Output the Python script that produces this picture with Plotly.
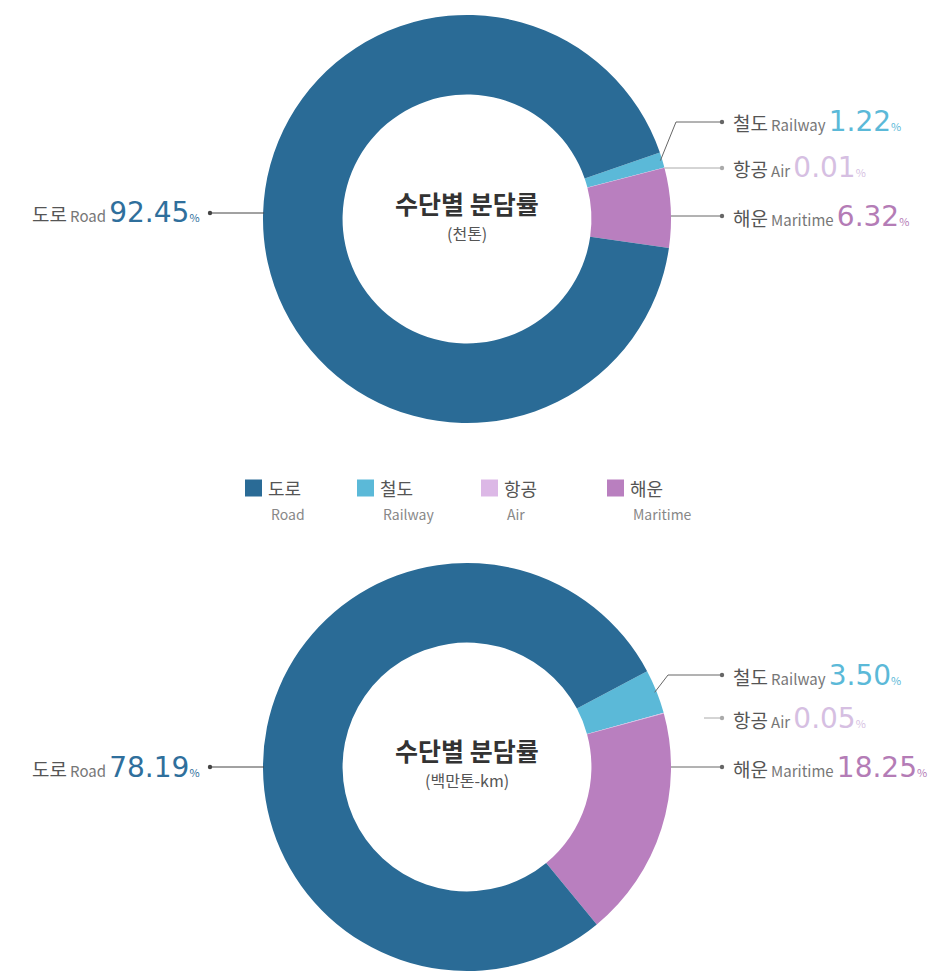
import math
import plotly.graph_objects as go

# ---------------- data ----------------
labels_ko = ["철도", "항공", "해운", "도로"]
labels_en = ["Railway", "Air", "Maritime", "Road"]
share_tonnes = [1.22, 0.01, 6.32, 92.45]        # 수단별 분담률 (천톤)
share_tonkm = [3.50, 0.05, 18.25, 78.19]        # 수단별 분담률 (백만톤-km)
colors = ["#5bb9d8", "#dcb8e6", "#b97fbf", "#2a6b96"]
text_colors = ["#5bb9d8", "#d6bfe2", "#b47cb6", "#2f6f9c"]
titles = ["수단별 분담률", "수단별 분담률"]
subtitles = ["(천톤)", "(백만톤-km)"]
legend_order = [3, 0, 1, 2]   # 도로, 철도, 항공, 해운

# ---------------- layout constants (pixels, in screenshot space) ----------------
W, H = 945, 976
OFF = 8          # default page body margin offsets the figure
FONT = "Noto Sans CJK KR"
NUM_FONT = "DejaVu Sans"
R = 204
HOLE = 0.61
charts = [
    dict(values=share_tonnes, cx=467, cy=219, rot=71,
         rows=[122, 168, 216], road_row=213, title_dy=-16, sub_dy=14,
         elbow_x=676, air_start=None),
    dict(values=share_tonkm, cx=467, cy=767, rot=62,
         rows=[675, 718, 767], road_row=767, title_dy=-17, sub_dy=13,
         elbow_x=668, air_start=704),
]
DOT_X = 722
LABEL_X = 731
ROAD_DOT_X = 210
ROAD_LABEL_X = 202
LEGEND_X = [245, 357, 481, 607]
LEGEND_Y = 488


def px(x):
    return (x - OFF) / W


def py(y):
    return 1 - (y - OFF) / H


def label_html(i, val):
    tc = text_colors[i]
    return (f"<span style='font-size:19px;color:#555555'>{labels_ko[i]}</span> "
            f"<span style='font-size:15px;color:#777777'>{labels_en[i]}</span> "
            f"<span style='font-family:{NUM_FONT};font-size:28px;color:{tc}'>{val:.2f}</span>"
            f"<span style='font-size:11px;color:{tc}'>%</span>")


fig = go.Figure()
shapes = []
annotations = []

for k, c in enumerate(charts):
    cx, cy = c["cx"], c["cy"]
    fig.add_trace(go.Pie(
        labels=[f"{a} {b}" for a, b in zip(labels_ko, labels_en)],
        values=c["values"],
        hole=HOLE,
        sort=False,
        direction="clockwise",
        rotation=c["rot"],
        marker=dict(colors=colors, line=dict(width=0)),
        textinfo="none",
        hoverinfo="label+percent",
        showlegend=False,
        domain=dict(x=[px(cx - R), px(cx + R)], y=[py(cy + R), py(cy - R)]),
    ))

    # center text
    annotations.append(dict(x=px(cx), y=py(cy + c["title_dy"]), xref="paper", yref="paper",
                            text=f"<b>{titles[k]}</b>", showarrow=False,
                            font=dict(family=FONT, size=25, color="#333333"),
                            xanchor="center", yanchor="middle"))
    annotations.append(dict(x=px(cx), y=py(cy + c["sub_dy"]), xref="paper", yref="paper",
                            text=subtitles[k], showarrow=False,
                            font=dict(family=FONT, size=16, color="#555555"),
                            xanchor="center", yanchor="middle"))

    # slice mid angles (degrees clockwise from 12 o'clock)
    total = sum(c["values"])
    acc = c["rot"]
    mids = []
    for v in c["values"]:
        span = v / total * 360
        mids.append(acc + span / 2)
        acc += span

    # right-side labels: railway, air, maritime
    for i in range(3):
        row = c["rows"][i]
        line_col = "#aaaaaa" if i == 1 else "#666666"
        if i == 0:
            a = math.radians(mids[0])
            sx = cx + (R - 2) * math.sin(a)
            sy = cy - (R - 2) * math.cos(a)
            ex = c["elbow_x"]
            path = f"M {px(sx)} {py(sy)} L {px(ex)} {py(row)} L {px(DOT_X)} {py(row)}"
            shapes.append(dict(type="path", xref="paper", yref="paper", path=path,
                               line=dict(color=line_col, width=1)))
        else:
            dy = row - cy
            sx = cx + math.sqrt(max(R * R - dy * dy, 0))
            if i == 1 and c["air_start"] is not None:
                sx = c["air_start"]
            shapes.append(dict(type="line", xref="paper", yref="paper",
                               x0=px(sx), y0=py(row), x1=px(DOT_X), y1=py(row),
                               line=dict(color=line_col, width=1)))
        shapes.append(dict(type="circle", xref="paper", yref="paper",
                           x0=px(DOT_X - 2.2), x1=px(DOT_X + 2.2),
                           y0=py(row + 2.2), y1=py(row - 2.2),
                           fillcolor=line_col, line=dict(width=0)))
        annotations.append(dict(x=px(LABEL_X), y=py(row), xref="paper", yref="paper",
                                text=label_html(i, c["values"][i]), showarrow=False,
                                xanchor="left", yanchor="middle",
                                font=dict(family=FONT, size=14, color="#555555")))

    # left road label
    row = c["road_row"]
    dy = row - cy
    ex = cx - math.sqrt(max(R * R - dy * dy, 0))
    shapes.append(dict(type="line", xref="paper", yref="paper",
                       x0=px(ROAD_DOT_X), y0=py(row), x1=px(ex + 1), y1=py(row),
                       line=dict(color="#444444", width=1)))
    shapes.append(dict(type="circle", xref="paper", yref="paper",
                       x0=px(ROAD_DOT_X - 2.2), x1=px(ROAD_DOT_X + 2.2),
                       y0=py(row + 2.2), y1=py(row - 2.2),
                       fillcolor="#444444", line=dict(width=0)))
    annotations.append(dict(x=px(ROAD_LABEL_X), y=py(row), xref="paper", yref="paper",
                            text=label_html(3, c["values"][3]), showarrow=False,
                            xanchor="right", yanchor="middle",
                            font=dict(family=FONT, size=14, color="#555555")))

# ---------------- legend (manual) ----------------
for lx, idx in zip(LEGEND_X, legend_order):
    shapes.append(dict(type="rect", xref="paper", yref="paper",
                       x0=px(lx), x1=px(lx + 17), y0=py(LEGEND_Y + 8.5), y1=py(LEGEND_Y - 8.5),
                       fillcolor=colors[idx], line=dict(width=0)))
    annotations.append(dict(x=px(lx + 21), y=py(LEGEND_Y), xref="paper", yref="paper",
                            text=labels_ko[idx], showarrow=False, xanchor="left", yanchor="middle",
                            font=dict(family=FONT, size=18, color="#555555")))
    annotations.append(dict(x=px(lx + 24), y=py(LEGEND_Y + 26), xref="paper", yref="paper",
                            text=labels_en[idx], showarrow=False, xanchor="left", yanchor="middle",
                            font=dict(family=FONT, size=14, color="#888888")))

fig.update_layout(
    width=W, height=H,
    margin=dict(l=0, r=0, t=0, b=0),
    paper_bgcolor="white",
    plot_bgcolor="white",
    showlegend=False,
    shapes=shapes,
    annotations=annotations,
    font=dict(family=FONT),
)

fig.write_html("out.html")
